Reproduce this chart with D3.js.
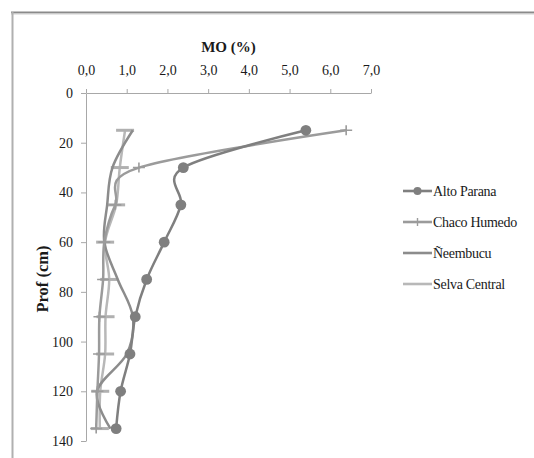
<!DOCTYPE html>
<html><head><meta charset="utf-8">
<script src="https://cdn.jsdelivr.net/npm/d3@7"></script>
<style>
html,body{margin:0;padding:0;background:#fff;}
svg{display:block;}
text{font-family:"Liberation Serif","Times New Roman",serif;fill:#1a1a1a;}
</style></head>
<body>
<script>
// ---- data ----
const depths = [15, 30, 45, 60, 75, 90, 105, 120, 135];
const seriesNames = ["Alto Parana", "Chaco Humedo", "Ñeembucu", "Selva Central"];
const altoParana   = [5.40, 2.39, 2.33, 1.92, 1.49, 1.21, 1.08, 0.85, 0.74];
const chacoHumedo  = [6.39, 1.30, 0.72, 0.45, 0.42, 0.33, 0.32, 0.28, 0.25];
const neembucu     = [1.15, 0.65, 0.52, 0.45, 0.78, 1.15, 1.00, 0.27, 0.60];
const selvaCentral = [0.96, 0.83, 0.74, 0.47, 0.57, 0.48, 0.47, 0.35, 0.34];
const xTicks = [0, 1, 2, 3, 4, 5, 6, 7];
const yTicks = [0, 20, 40, 60, 80, 100, 120, 140];

const W = 534, H = 458;
const svg = d3.select("body").append("svg").attr("width", W).attr("height", H);

// frame
svg.append("line").attr("x1", 11).attr("x2", 534).attr("y1", 12.5).attr("y2", 12.5)
  .attr("stroke", "#8a8a8a").attr("stroke-width", 2);
svg.append("line").attr("x1", 11).attr("x2", 534).attr("y1", 14).attr("y2", 14)
  .attr("stroke", "#d0d0d0").attr("stroke-width", 1);
svg.append("line").attr("x1", 12.5).attr("x2", 12.5).attr("y1", 12).attr("y2", H)
  .attr("stroke", "#b0b0b0").attr("stroke-width", 2);

const x = d3.scaleLinear().domain([0, 7]).range([86, 371]);
const y = d3.scaleLinear().domain([0, 140]).range([93, 441]);

const axisColor = "#a8a8a8";
const fmt = d => d.toFixed(1).replace(".", ",");

const gx = svg.append("g").attr("transform", "translate(0,93)")
  .call(d3.axisTop(x).tickValues(xTicks).tickFormat(fmt).tickSize(4).tickSizeOuter(0).tickPadding(14));
const gy = svg.append("g").attr("transform", "translate(86,0)")
  .call(d3.axisLeft(y).tickValues(yTicks).tickSize(5).tickSizeOuter(0).tickPadding(8));
[gx, gy].forEach(g => {
  g.select(".domain").attr("stroke", axisColor);
  g.selectAll(".tick line").attr("stroke", axisColor);
  g.selectAll("text").attr("font-size", 14).attr("font-family", "Liberation Serif").attr("fill", "#1a1a1a");
});

svg.append("text").attr("x", 228.5).attr("y", 52).attr("text-anchor", "middle")
  .attr("font-size", 15).attr("font-weight", "bold").text("MO (%)");
svg.append("text").attr("transform", "translate(48,279) rotate(-90)").attr("text-anchor", "middle")
  .attr("font-size", 16.5).attr("font-weight", "bold").text("Prof (cm)");

const series = [
  {name: seriesNames[0], vals: altoParana,   color: "#7f7f7f", marker: "circle"},
  {name: seriesNames[1], vals: chacoHumedo,  color: "#9b9b9b", marker: "plus"},
  {name: seriesNames[2], vals: neembucu,     color: "#8c8c8c", marker: "none"},
  {name: seriesNames[3], vals: selvaCentral, color: "#b8b8b8", marker: "dash"}
];

const line = d3.line().x(d => x(d[0])).y(d => y(d[1])).curve(d3.curveCardinal.tension(0));

function drawMarker(g, s, px, py) {
  if (s.marker === "circle") {
    g.append("circle").attr("cx", px).attr("cy", py).attr("r", 5.4).attr("fill", s.color);
  } else if (s.marker === "plus") {
    g.append("path").attr("d", `M${px-6},${py}H${px+6}M${px},${py-5}V${py+5}`)
      .attr("stroke", s.color).attr("stroke-width", 1.6).attr("fill", "none");
  } else if (s.marker === "dash") {
    g.append("path").attr("d", `M${px-9},${py}H${px+9}`)
      .attr("stroke", "#b0b0b0").attr("stroke-width", 3).attr("fill", "none");
  }
}

// draw in reverse so Alto Parana sits on top
const plotG = svg.append("g");
series.slice().reverse().forEach(s => {
  const pts = s.vals.map((v, i) => [v, depths[i]]);
  const g = plotG.append("g");
  g.append("path").attr("d", line(pts)).attr("fill", "none")
    .attr("stroke", s.color).attr("stroke-width", 2.5);
  pts.forEach(p => drawMarker(g, s, x(p[0]), y(p[1])));
});

// legend
const leg = svg.append("g");
series.forEach((s, i) => {
  const ly = 191 + i * 31;
  leg.append("line").attr("x1", 403).attr("x2", 432).attr("y1", ly).attr("y2", ly)
    .attr("stroke", s.color).attr("stroke-width", 2.6);
  if (s.marker === "circle") leg.append("circle").attr("cx", 417.5).attr("cy", ly).attr("r", 4).attr("fill", s.color);
  if (s.marker === "plus") leg.append("path").attr("d", `M417.5,${ly-4}V${ly+4}`).attr("stroke", s.color).attr("stroke-width", 1.4);
  leg.append("text").attr("x", 433).attr("y", ly + 4.5).attr("font-size", 14)
    .attr("letter-spacing", "-0.3").text(s.name);
});
</script>
</body></html>
